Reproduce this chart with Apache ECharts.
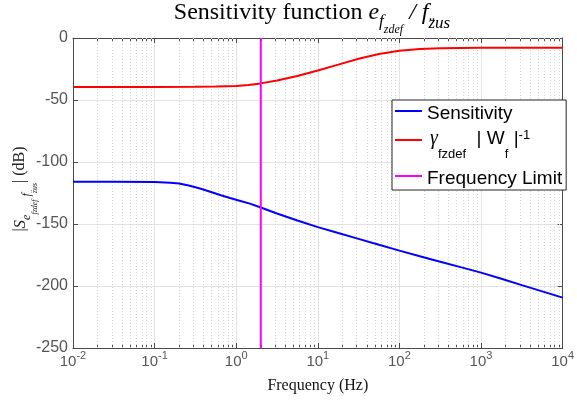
<!DOCTYPE html>
<html><head><meta charset="utf-8">
<script src="https://cdn.jsdelivr.net/npm/echarts@6/dist/echarts.min.js"></script>
<style>html,body{margin:0;padding:0;background:#fff}#c{width:577px;height:401px}</style>
</head><body><div id="c"></div>
<script>
// ---- data ----
const sensFreq = [0.01, 0.0316, 0.1, 0.155, 0.2, 0.27, 0.37, 0.48, 0.65, 0.84, 1.1, 1.47, 2, 3.16, 5.62, 10, 17.8, 31.6, 56.2, 100, 178, 316, 562, 1000, 1778, 3162, 5623, 10000];
const sensDb   = [-115.9, -115.9, -116.2, -116.7, -117.4, -119.2, -121.6, -124.0, -126.8, -129.0, -131.2, -133.6, -136.7, -141.5, -147.2, -152.5, -157.3, -162.0, -166.8, -171.5, -176.0, -180.4, -184.8, -189.2, -194.2, -199.3, -204.3, -209.4];
const wFreq = [0.01, 0.1, 0.316, 0.562, 1, 1.41, 2, 3.16, 5.62, 10, 17.8, 31.6, 56.2, 100, 178, 316, 562, 1000, 10000];
const wDb   = [-39.5, -39.5, -39.4, -39.2, -38.7, -37.9, -36.6, -34.3, -30.6, -26.2, -21.5, -16.7, -12.9, -10.3, -8.9, -8.3, -8.0, -7.9, -7.8];
const freqLimit = 2;
const yMin = -250, yMax = 0, yStep = 50;
const xMin = 0.01, xMax = 10000;
const xTickValues = [0.01, 0.1, 1, 10, 100, 1000, 10000];
const xTickExponents = ['-2', '-1', '0', '1', '2', '3', '4'];
const minorMultipliers = [2, 3, 4, 5, 6, 7, 8, 9];
const seriesNames = ['Sensitivity', 'gammaW', 'Frequency Limit'];

const minorValues = [];
xTickValues.slice(0, -1).forEach(d => minorMultipliers.forEach(m => minorValues.push(+(d * m).toPrecision(6))));

const AX = '#4a4a4a', LBL = '#555555', GRID = '#e3e3e3';
const chart = echarts.init(document.getElementById('c'), null, {renderer: 'canvas'});

function xLabel(v) {
  let best = 0, bd = 1e9;
  xTickValues.forEach((t, i) => { const d = Math.abs(Math.log10(t) - Math.log10(v)); if (d < bd) { bd = d; best = i; } });
  return '{b|10}{p|' + xTickExponents[best] + '}';
}

const serif = 'Liberation Serif';
const grid = {left: 73, right: 14, top: 38, bottom: 53};

const option = {
  animation: false,
  backgroundColor: '#fff',
  grid: grid,
  xAxis: [
    {type: 'log', logBase: 10, min: xMin, max: xMax, position: 'bottom',
     axisLine: {show: true, onZero: false, lineStyle: {color: AX, width: 1}},
     axisTick: {show: true, inside: true, length: 5, lineStyle: {color: AX}},
     axisLabel: {show: true, margin: 2, formatter: xLabel, color: LBL,
       rich: {
         b: {fontFamily: 'Liberation Sans', fontSize: 15, color: LBL, lineHeight: 16, verticalAlign: 'top', padding: [4, 0, 0, 0]},
         p: {fontFamily: 'Liberation Sans', fontSize: 11, color: LBL, lineHeight: 11, verticalAlign: 'top', padding: [0, 0, 9, 0]}
       }},
     splitLine: {show: true, lineStyle: {color: GRID, width: 1}},
     name: 'Frequency (Hz)', nameLocation: 'middle', nameGap: 30,
     nameTextStyle: {fontFamily: serif, fontSize: 16, color: '#111'}
    },
    {type: 'log', logBase: 10, min: xMin, max: xMax, position: 'top',
     axisLine: {show: true, onZero: false, lineStyle: {color: AX, width: 1}},
     axisTick: {show: true, inside: true, length: 5, lineStyle: {color: AX}},
     axisLabel: {show: false}, splitLine: {show: false}},
    {type: 'log', logBase: 10, min: xMin, max: xMax, position: 'bottom',
     axisLine: {show: false, onZero: false},
     axisTick: {show: true, inside: true, length: 3, customValues: minorValues, lineStyle: {color: AX}},
     axisLabel: {show: false}, splitLine: {show: false}},
    {type: 'log', logBase: 10, min: xMin, max: xMax, position: 'top',
     axisLine: {show: false, onZero: false},
     axisTick: {show: true, inside: true, length: 3, customValues: minorValues, lineStyle: {color: AX}},
     axisLabel: {show: false}, splitLine: {show: false}}
  ],
  yAxis: [
    {type: 'value', min: yMin, max: yMax, interval: yStep, position: 'left',
     axisLine: {show: true, onZero: false, lineStyle: {color: AX, width: 1}},
     axisTick: {show: true, inside: true, length: 5, lineStyle: {color: AX}},
     axisLabel: {show: true, margin: 5, color: LBL, fontFamily: 'Liberation Sans', fontSize: 16},
     splitLine: {show: true, lineStyle: {color: GRID, width: 1}}},
    {type: 'value', min: yMin, max: yMax, interval: yStep, position: 'right',
     axisLine: {show: true, onZero: false, lineStyle: {color: AX, width: 1}},
     axisTick: {show: true, inside: true, length: 5, lineStyle: {color: AX}},
     axisLabel: {show: false}, splitLine: {show: false}}
  ],
  legend: {
    data: seriesNames,
    orient: 'vertical', left: 392, top: 100,
    padding: [0, 4, 0, 3], itemGap: 4, itemWidth: 27, itemHeight: 2, icon: 'rect',
    backgroundColor: '#fff', borderColor: '#262626', borderWidth: 1, borderRadius: 0,
    selectedMode: false,
    formatter: function (name) {
      if (name === 'gammaW') return '{g|γ}{s|fzdef}{m|  | W}{s|f}{m| |}{p|-1}';
      return '{n|' + name + '}';
    },
    textStyle: {
      color: '#000', fontFamily: 'Liberation Sans', fontSize: 19,
      rich: {
        n: {fontFamily: 'Liberation Sans', fontSize: 19, color: '#000', lineHeight: 22, verticalAlign: 'top', padding: [4, 0, 2, 0]},
        m: {fontFamily: 'Liberation Sans', fontSize: 19, color: '#000', lineHeight: 22, verticalAlign: 'top', padding: [0, 0, 6, 0]},
        g: {fontFamily: serif, fontStyle: 'italic', fontSize: 20, color: '#000', lineHeight: 22, verticalAlign: 'top', padding: [0, 0, 6, 3]},
        s: {fontFamily: 'Liberation Sans', fontSize: 13, color: '#000', lineHeight: 9, verticalAlign: 'top', padding: [19, 0, 0, 0]},
        p: {fontFamily: 'Liberation Sans', fontSize: 13, color: '#000', lineHeight: 10, verticalAlign: 'top', padding: [0, 0, 18, 0]}
      }
    }
  },
  graphic: [
    {type: 'text', x: 312, y: 1,
     style: {
       text: '{n|Sensitivity function }{i|e}{s1|f}{s2|zdef}{i| / f}{s3|z̈us}',
       align: 'center', verticalAlign: 'top',
       rich: {
         n: {fontFamily: serif, fontSize: 24, fill: '#000', lineHeight: 26, verticalAlign: 'top', padding: [0, 0, 9, 0]},
         i: {fontFamily: serif, fontStyle: 'italic', fontSize: 24, fill: '#000', lineHeight: 26, verticalAlign: 'top', padding: [0, 0, 9, 0]},
         s1: {fontFamily: serif, fontStyle: 'italic', fontSize: 17, fill: '#000', lineHeight: 17, verticalAlign: 'top', padding: [12, 0, 6, 0]},
         s2: {fontFamily: serif, fontStyle: 'italic', fontSize: 12, fill: '#000', lineHeight: 12, verticalAlign: 'top', padding: [23, 0, 0, 0]},
         s3: {fontFamily: serif, fontStyle: 'italic', fontSize: 17, fill: '#000', lineHeight: 17, verticalAlign: 'top', padding: [14, 0, 4, 0]}
       }
     }},
    {type: 'text', x: 21, y: 189, rotation: Math.PI / 2,
     style: {
       text: '{n||}{i|S}{s1|e}{s2|fzdef}{s1| f}{s2|z̈us}{n|| (dB)}',
       align: 'center', verticalAlign: 'middle',
       rich: {
         n: {fontFamily: serif, fontSize: 16, fill: '#222', lineHeight: 18, verticalAlign: 'top', padding: [0, 0, 10, 0]},
         i: {fontFamily: serif, fontStyle: 'italic', fontSize: 17, fill: '#222', lineHeight: 18, verticalAlign: 'top', padding: [0, 0, 10, 0]},
         s1: {fontFamily: serif, fontStyle: 'italic', fontSize: 12, fill: '#222', lineHeight: 12, verticalAlign: 'top', padding: [9, 0, 7, 0]},
         s2: {fontFamily: serif, fontStyle: 'italic', fontSize: 8, fill: '#222', lineHeight: 8, verticalAlign: 'top', padding: [19, 0, 1, 0]}
       }
     }}
  ],
  series: [
    {name: seriesNames[0], type: 'line', xAxisIndex: 0, yAxisIndex: 0,
     data: sensFreq.map((f, i) => [f, sensDb[i]]),
     symbol: 'none', smooth: false, z: 3,
     lineStyle: {color: '#0000ff', width: 2}, itemStyle: {color: '#0000ff'}},
    {name: seriesNames[1], type: 'line', xAxisIndex: 0, yAxisIndex: 0,
     data: wFreq.map((f, i) => [f, wDb[i]]),
     symbol: 'none', smooth: false, z: 3,
     lineStyle: {color: '#ff0000', width: 2}, itemStyle: {color: '#ff0000'}},
    {name: seriesNames[2], type: 'line', xAxisIndex: 0, yAxisIndex: 0,
     data: [[freqLimit, yMin], [freqLimit, yMax]],
     symbol: 'none', z: 4,
     lineStyle: {color: '#ff00ff', width: 2}, itemStyle: {color: '#ff00ff'}},
    {name: 'minorGrid', type: 'line', xAxisIndex: 0, yAxisIndex: 0, data: [], z: 1,
     markLine: {silent: true, symbol: ['none', 'none'], z: 1, animation: false,
       label: {show: false},
       lineStyle: {color: '#d6d6d6', type: [1, 2], width: 1},
       data: minorValues.map(v => ({xAxis: v}))}}
  ]
};
chart.setOption(option);
</script>
</body></html>
